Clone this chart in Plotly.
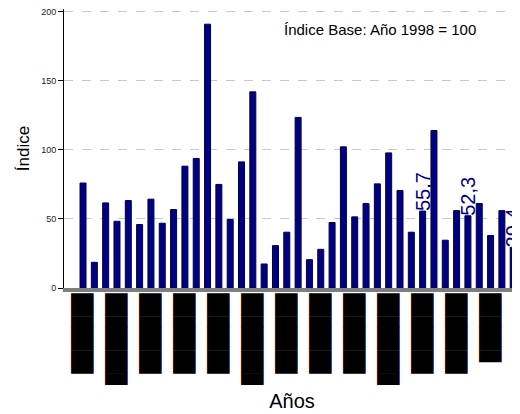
import plotly.graph_objects as go

# Data
categories = list(range(1, 40))
values = [76, 18.6, 61.6, 48.3, 63.3, 46, 64.3, 46.9, 56.8, 88.2,
          93.8, 191, 75, 49.6, 91.3, 142, 17.4, 30.7, 40.4, 123.5,
          20.5, 28, 47.4, 102.2, 51.5, 61.2, 75.4, 97.8, 70.6, 40.4,
          55.7, 114, 34.6, 56, 52.3, 61.2, 38, 56, 29.4]
value_labels = ["" for _ in values]
value_labels[30] = "55,7"
value_labels[34] = "52,3"
value_labels[38] = "29,4"

# x tick labels appear as solid black blocks in the reference
tick_positions = categories[0::3]
tick_block_lengths = [7, 8, 7, 7, 7, 8, 7, 7, 7, 8, 7, 7, 6]
tick_labels = ["\u2588" * n for n in tick_block_lengths]

y_ticks = [0, 50, 100, 150, 200]

fig = go.Figure()
fig.add_trace(go.Bar(
    x=categories, y=values,
    marker=dict(color="#000080", line=dict(color="#00004a", width=1)),
    text=value_labels, textposition="outside", textangle=-90,
    constraintext="none",
    textfont=dict(family="Liberation Sans, Arial", size=20, color="#000080"),
    cliponaxis=False,
))

fig.update_layout(
    width=512, height=406,
    margin=dict(l=56, r=0, t=1, b=126),
    paper_bgcolor="white", plot_bgcolor="white",
    showlegend=False, bargap=0.47,
    font=dict(family="Liberation Sans, Arial", color="black"),
    xaxis=dict(
        range=[-0.68, 39.6], automargin=False,
        tickmode="array", tickvals=tick_positions, ticktext=tick_labels,
        tickangle=-90, ticks="", showgrid=False, ticklabelstandoff=-6,
        tickfont=dict(family="DejaVu Sans Mono", size=19, color="black"),
        showline=True, linecolor="#7f7f7f", linewidth=4,
        title=dict(text="Años", font=dict(size=20), standoff=10),
        zeroline=False,
    ),
    yaxis=dict(
        range=[0, 202], tickvals=y_ticks, automargin=False,
        ticklabeloverflow="allow",
        ticks="outside", ticklen=5, tickcolor="black",
        tickfont=dict(size=9, color="#222222"),
        showline=True, linecolor="black", linewidth=1,
        showgrid=True, gridcolor="#c8c8c8", griddash="dash", gridwidth=1,
        zeroline=False,
        title=dict(text="Índice", font=dict(size=17), standoff=7),
    ),
    annotations=[dict(
        text="Índice Base: Año 1998 = 100", x=0.693, y=0.928,
        xref="paper", yref="paper", showarrow=False,
        font=dict(size=15, color="black"), xanchor="center", yanchor="middle",
    )],
)

fig.write_html("out.html")
